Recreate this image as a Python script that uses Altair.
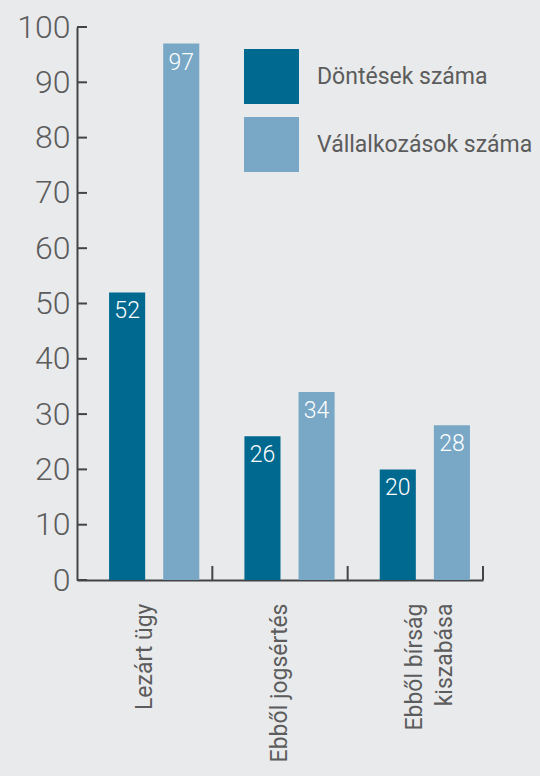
import altair as alt
import pandas as pd

categories = ["Lezárt ügy", "Ebből jogsértés", "Ebből bírság kiszabása"]
series = ["Döntések száma", "Vállalkozások száma"]
dontesek = [52, 26, 20]
vallalkozasok = [97, 34, 28]
y_ticks = [0, 10, 20, 30, 40, 50, 60, 70, 80, 90, 100]

rows = []
for c, a, b in zip(categories, dontesek, vallalkozasok):
    rows.append({"cat": c, "series": series[0], "value": a})
    rows.append({"cat": c, "series": series[1], "value": b})
df = pd.DataFrame(rows)
ticks_df = pd.DataFrame({"t": y_ticks})
cat_df = pd.DataFrame({"cat": categories})

W, H = 406, 553
FONT = "Roboto"
GRAY = "#5c5c5c"
AXIS = "#444444"
DARK = "#00698f"
LIGHT = "#79a7c6"
BG = "#e9eaec"

# page background matching the chart background
try:
    import altair.utils.html as _ah

    _orig = _ah.TEMPLATES["standard"]

    class _BgTemplate:
        def render(self, *args, **kwargs):
            s = _orig.render(*args, **kwargs)
            return s.replace(
                "<head>", "<head><style>body{background:" + BG + ";}</style>", 1
            )

    _ah.TEMPLATES["standard"] = _BgTemplate()
except Exception:
    pass

xenc = alt.X(
    "cat:N",
    sort=categories,
    scale=alt.Scale(paddingInner=0, paddingOuter=0),
    axis=alt.Axis(
        title=None,
        labelAngle=270,
        labelAlign="right",
        labelBaseline="middle",
        labelPadding=23,
        labelFontSize=23,
        labelFont=FONT,
        labelColor=GRAY,
        labelLineHeight=30,
        labelLimit=0,
        labelExpr="datum.value == 'Ebből bírság kiszabása' ? ['Ebből bírság', 'kiszabása'] : datum.value",
        ticks=False,
        domainColor=AXIS,
        domainWidth=2,
        grid=False,
    ),
)
yscale = alt.Scale(domain=[0, 100], nice=False)
xoff = alt.XOffset(
    "series:N",
    sort=series,
    scale=alt.Scale(paddingInner=1 / 3, paddingOuter=0.4167, align=0.711),
)

bars = alt.Chart(df).mark_bar().encode(
    x=xenc,
    xOffset=xoff,
    y=alt.Y(
        "value:Q",
        scale=yscale,
        axis=alt.Axis(
            title=None,
            values=y_ticks,
            ticks=False,
            labelPadding=7,
            labelFontSize=32,
            labelFont=FONT,
            labelFontWeight=300,
            labelColor=GRAY,
            domainColor=AXIS,
            domainWidth=2,
            grid=False,
        ),
    ),
    color=alt.Color(
        "series:N",
        sort=series,
        scale=alt.Scale(domain=series, range=[DARK, LIGHT]),
        legend=alt.Legend(
            title=None,
            orient="none",
            legendX=167,
            legendY=22,
            padding=0,
            symbolType="square",
            symbolSize=3025,
            symbolStrokeWidth=0,
            symbolOpacity=1,
            labelFontSize=23,
            labelFont=FONT,
            labelColor=GRAY,
            labelOffset=18,
            labelLimit=0,
            rowPadding=13,
        ),
    ),
)

labels = alt.Chart(df).mark_text(
    baseline="top", dy=8, fontSize=23, font=FONT, fontWeight=300, color="white"
).encode(
    x=alt.X("cat:N", sort=categories),
    xOffset=xoff,
    y=alt.Y("value:Q", scale=yscale),
    text=alt.Text("value:Q"),
)

ytick_marks = alt.Chart(ticks_df).mark_rule(color=AXIS, strokeWidth=2).encode(
    y=alt.Y("t:Q", scale=yscale),
    x=alt.value(0),
    x2=alt.value(10),
)

xtick_marks = alt.Chart(cat_df).mark_rule(color=AXIS, strokeWidth=2).encode(
    x=alt.X("cat:N", sort=categories, bandPosition=1),
    y=alt.value(H - 14),
    y2=alt.value(H),
)

chart = (
    alt.layer(bars, labels, ytick_marks, xtick_marks)
    .properties(
        width=W,
        height=H,
        background=BG,
        autosize=alt.AutoSizeParams(type="none"),
        padding={"left": 69, "top": 19, "right": 49, "bottom": 188},
    )
    .configure_view(stroke=None)
)

chart.save("out.html", embed_options={"renderer": "svg", "actions": False})
